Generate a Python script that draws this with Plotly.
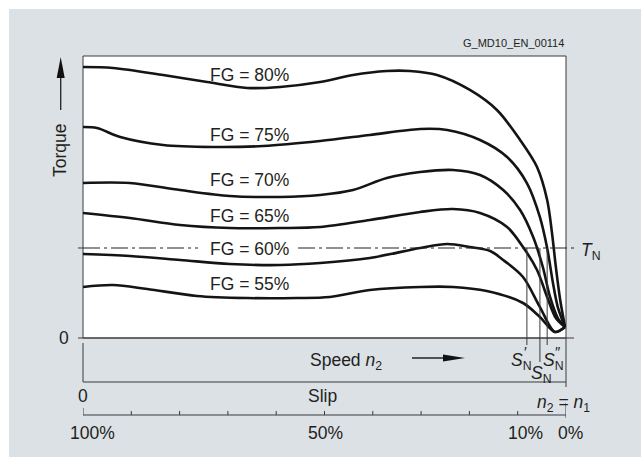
import plotly.graph_objects as go

# ---------------- data (speed n2 in % of n1, torque in % of T_N) ----------------
speed_fg80 = [0, 6.2, 16.6, 25.7, 34.0, 40.8, 49.1, 55.9, 62.9, 67.7, 73.3, 80.1, 85.7, 90.5, 94.0, 96.1, 97.1, 97.9, 98.8, 99.8]
torque_fg80 = [301.1, 300.0, 292.2, 284.4, 277.8, 278.9, 284.4, 292.2, 296.7, 296.7, 292.2, 275.6, 253.3, 220.0, 190.0, 153.3, 116.7, 78.9, 42.2, 12.2]

speed_fg75 = [0, 2.9, 7.7, 16.6, 26.9, 37.3, 49.1, 59.4, 69.8, 75.4, 82.2, 87.8, 91.9, 94.6, 96.1, 97.3, 98.3, 99.8]
torque_fg75 = [234.4, 233.3, 223.3, 214.4, 212.2, 213.3, 218.9, 225.6, 232.2, 231.1, 220.0, 201.1, 172.2, 134.4, 100.0, 61.1, 34.4, 12.2]

speed_fg70 = [0, 9.7, 20.1, 30.4, 40.8, 49.1, 55.9, 62.9, 69.8, 76.6, 82.2, 87.0, 90.5, 93.2, 95.2, 96.7, 98.3, 99.8]
torque_fg70 = [172.2, 172.2, 164.4, 157.8, 156.7, 158.9, 164.4, 177.8, 184.4, 186.7, 181.1, 164.4, 142.2, 112.2, 78.9, 45.6, 22.2, 12.2]

speed_fg65 = [0, 9.7, 20.1, 30.4, 40.8, 49.1, 59.4, 69.8, 76.6, 82.2, 87.8, 91.1, 94.0, 96.1, 97.9, 99.8]
torque_fg65 = [138.9, 133.3, 125.6, 122.2, 122.2, 123.3, 131.1, 140.0, 143.3, 138.9, 123.3, 101.1, 75.6, 45.6, 22.2, 12.2]

speed_fg60 = [0, 9.7, 20.1, 30.4, 40.8, 49.1, 59.4, 69.8, 75.4, 80.1, 84.3, 87.0, 91.1, 94.6, 97.7, 99.8]
torque_fg60 = [93.3, 91.1, 86.7, 82.2, 81.1, 83.3, 88.9, 100.0, 104.4, 101.1, 96.7, 86.7, 67.8, 34.4, 6.7, 12.2]

speed_fg55 = [0, 6.2, 13.3, 23.6, 34.0, 44.3, 51.1, 59.4, 69.8, 76.6, 83.6, 91.1, 94.6, 97.7, 99.8]
torque_fg55 = [56.7, 58.9, 54.4, 46.7, 44.4, 44.4, 45.6, 53.3, 56.7, 56.7, 52.2, 38.9, 23.3, 6.7, 12.2]

fill_levels = ["FG = 80%", "FG = 75%", "FG = 70%", "FG = 65%", "FG = 60%", "FG = 55%"]
nominal_torque = 100
slip_ticks = [100, 90, 80, 70, 60, 50, 40, 30, 20, 10, 0]
slip_tick_labels = ["100%", "", "", "", "", "50%", "", "", "", "10%", "0%"]
nominal_slip_speeds = [91.9, 94.6, 96.1]   # S'N, SN, S''N
torque_max = 313.33

# ---------------- styling / layout helpers ----------------
W, H = 641, 457
ML, MR, MT, MB = 83, 75, 56, 119
PW, PH = W - ML - MR, H - MT - MB
FONT = "Liberation Sans, Arial, Helvetica, sans-serif"
TXT = "#231f20"
AX = "#3a3a3a"
GRAY = "#dce1e6"


def PX(px):
    return (px - ML) / PW


def PY(py):
    return (H - MB - py) / PH


fig = go.Figure()
series = [
    (speed_fg80, torque_fg80), (speed_fg75, torque_fg75), (speed_fg70, torque_fg70),
    (speed_fg65, torque_fg65), (speed_fg60, torque_fg60), (speed_fg55, torque_fg55),
]
for (sx, sy), name in zip(series, fill_levels):
    fig.add_trace(go.Scatter(x=sx, y=sy, mode="lines", name=name,
                             line=dict(color="#141414", width=2.6, shape="spline", smoothing=0.9),
                             hoverinfo="skip", showlegend=False))

shapes = []
shapes.append(dict(type="rect", xref="paper", yref="paper", x0=PX(9), x1=PX(660), y0=PY(480), y1=PY(9),
                   fillcolor=GRAY, line=dict(width=0), layer="below"))
shapes.append(dict(type="rect", xref="paper", yref="paper", x0=0, x1=1, y0=0, y1=1,
                   fillcolor="white", line=dict(color=AX, width=1), layer="below"))
shapes.append(dict(type="line", xref="paper", yref="paper", x0=PX(78), x1=PX(574), y0=0, y1=0,
                   line=dict(color=AX, width=1.2)))
yTN = nominal_torque / torque_max
shapes.append(dict(type="line", xref="paper", yref="paper", x0=PX(78), x1=0, y0=yTN, y1=yTN,
                   line=dict(color=AX, width=1)))
for a, b in [(0, PX(198)), (PX(298), PX(575))]:
    shapes.append(dict(type="line", xref="paper", yref="paper", x0=a, x1=b, y0=yTN, y1=yTN,
                       line=dict(color="#222", width=1.1, dash="17px,4px,3px,4px")))
for sx, bottom in zip(nominal_slip_speeds, [345, 362, 345]):
    shapes.append(dict(type="line", xref="x", yref="paper", x0=sx, x1=sx, y0=yTN, y1=PY(bottom),
                       line=dict(color=AX, width=1)))
shapes.append(dict(type="line", xref="paper", yref="paper", x0=1, x1=1, y0=0, y1=PY(387),
                   line=dict(color=AX, width=1)))
shapes.append(dict(type="line", xref="paper", yref="paper", x0=0, x1=0, y0=PY(343), y1=PY(382),
                   line=dict(color=AX, width=1)))
shapes.append(dict(type="line", xref="paper", yref="paper", x0=0, x1=1, y0=PY(382), y1=PY(382),
                   line=dict(color=AX, width=1)))
shapes.append(dict(type="line", xref="paper", yref="paper", x0=0, x1=1, y0=PY(415), y1=PY(415),
                   line=dict(color=AX, width=1)))
for s in slip_ticks:
    top, bot = (408, 415) if s == 100 else ((403, 418) if s == 0 else (411, 415))
    shapes.append(dict(type="line", xref="x", yref="paper", x0=100 - s, x1=100 - s,
                       y0=PY(bot), y1=PY(top), line=dict(color=AX, width=1)))
shapes.append(dict(type="line", xref="paper", yref="paper", x0=PX(60.7), x1=PX(60.7), y0=PY(110), y1=PY(75),
                   line=dict(color="#222", width=1.3)))
shapes.append(dict(type="path", xref="paper", yref="paper", xsizemode="pixel", ysizemode="pixel",
                   xanchor=PX(60.7), yanchor=PY(57), path="M0,0 L-4,-21 L4,-21 Z",
                   fillcolor="#111", line=dict(width=0)))
shapes.append(dict(type="line", xref="paper", yref="paper", x0=PX(412), x1=PX(446), y0=PY(358), y1=PY(358),
                   line=dict(color="#222", width=1.3)))
shapes.append(dict(type="path", xref="paper", yref="paper", xsizemode="pixel", ysizemode="pixel",
                   xanchor=PX(465), yanchor=PY(358), path="M0,0 L-22,3.5 L-22,-3.5 Z",
                   fillcolor="#111", line=dict(width=0)))

ann = []


def T(text, x, y, xref="paper", yref="paper", size=17.5, **kw):
    d = dict(text=text, x=x, y=y, xref=xref, yref=yref, showarrow=False,
             xanchor="center", yanchor="middle",
             font=dict(family=FONT, size=size, color=TXT))
    d.update(kw)
    ann.append(d)


label_y = [292.2, 225.6, 175.6, 135.6, 98.9, 60.0]
for name, ly in zip(fill_levels, label_y):
    T(name, 34.5, ly, xref="x", yref="y")

T("0", PX(71), 0, yref="y", xanchor="right")
T("<i>T</i><sub>N</sub>", PX(579), nominal_torque, yref="y", xanchor="left", yshift=-3)
T("Torque", PX(60), PY(150), textangle=-90)
T("Speed <i>n</i><sub>2</sub>", PX(346), PY(358), yshift=-3)
T("0", 0, PY(396), xref="x")
T("Slip", PX(322), PY(396))
T("<i>n</i><sub>2</sub> = <i>n</i><sub>1</sub>", PX(563), PY(400), yshift=-3)
shifts = {"100%": 9, "50%": 1, "10%": 8, "0%": 4}
for s, lab in zip(slip_ticks, slip_tick_labels):
    if lab:
        T(lab, 100 - s, PY(433), xref="x", xshift=shifts[lab])
T("<i>S</i><sub>N</sub>", PX(521), PY(358), yshift=-3)
T("′", PX(525), PY(351), size=15)
T("<i>S</i><sub>N</sub>", PX(541), PY(371), yshift=-3)
T("<i>S</i><sub>N</sub>", PX(553), PY(358), yshift=-3)
T("″", PX(558), PY(351), size=15)
T("G_MD10_EN_00114", 1, PY(43), xanchor="right", size=11)

fig.update_layout(
    width=W, height=H, autosize=False,
    margin=dict(l=ML, r=MR, t=MT, b=MB, pad=0),
    paper_bgcolor="white", plot_bgcolor="rgba(0,0,0,0)",
    xaxis=dict(range=[0, 100], visible=False, fixedrange=True),
    yaxis=dict(range=[0, torque_max], visible=False, fixedrange=True),
    shapes=shapes, annotations=ann, showlegend=False,
)
fig.write_html("out.html", config={"displayModeBar": False},
               post_script="document.body.style.margin='0px';")
